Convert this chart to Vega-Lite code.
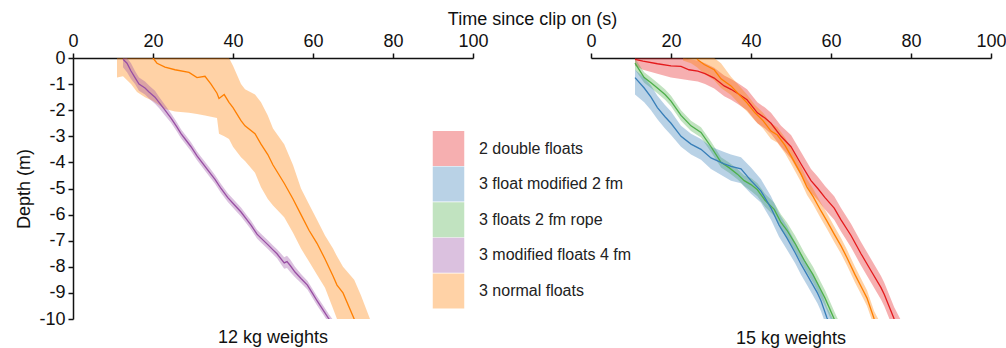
{
  "$schema": "https://vega.github.io/schema/vega-lite/v6.json",
  "padding": {"left": 15, "top": 10, "right": 5, "bottom": 0},
  "config": {
    "font": "Liberation Sans",
    "view": {"stroke": null},
    "axis": {"domainColor": "#111", "tickColor": "#111", "labelColor": "#111", "titleColor": "#111", "labelFontSize": 18, "titleFontSize": 18, "titleFontWeight": "normal", "domainWidth": 1.5, "tickWidth": 1.5, "tickSize": 5, "grid": false, "labelFlush": false},
    "title": {"fontWeight": "normal", "fontSize": 18, "color": "#111"},
    "legend": {"padding": 0}
  },
  "bounds": "flush",
  "spacing": 118,
  "resolve": {"scale": {"fill": "shared", "stroke": "shared"}},
  "data": {"values": [
    {"w":"12 kg","s":"3 normal floats","t":11,"m":null,"lo":-0.75,"hi":0},
    {"w":"12 kg","s":"3 normal floats","t":12.5,"m":null,"lo":-0.7,"hi":0},
    {"w":"12 kg","s":"3 normal floats","t":14.5,"m":null,"lo":-1.0,"hi":0},
    {"w":"12 kg","s":"3 normal floats","t":16,"m":null,"lo":-1.3,"hi":0},
    {"w":"12 kg","s":"3 normal floats","t":18,"m":null,"lo":-1.5,"hi":0},
    {"w":"12 kg","s":"3 normal floats","t":20,"m":0,"lo":-1.65,"hi":0},
    {"w":"12 kg","s":"3 normal floats","t":21,"m":-0.2,"lo":-1.75,"hi":0},
    {"w":"12 kg","s":"3 normal floats","t":23,"m":-0.35,"lo":-1.95,"hi":0},
    {"w":"12 kg","s":"3 normal floats","t":25.5,"m":-0.45,"lo":-2.05,"hi":0},
    {"w":"12 kg","s":"3 normal floats","t":29,"m":-0.55,"lo":-2.1,"hi":0},
    {"w":"12 kg","s":"3 normal floats","t":31,"m":-0.75,"lo":-2.15,"hi":0},
    {"w":"12 kg","s":"3 normal floats","t":33,"m":-0.7,"lo":-2.2,"hi":0},
    {"w":"12 kg","s":"3 normal floats","t":34.5,"m":-1.0,"lo":-2.25,"hi":0},
    {"w":"12 kg","s":"3 normal floats","t":36,"m":-1.35,"lo":-2.3,"hi":0},
    {"w":"12 kg","s":"3 normal floats","t":36.5,"m":-1.55,"lo":-2.9,"hi":0},
    {"w":"12 kg","s":"3 normal floats","t":37.8,"m":-1.4,"lo":-3.0,"hi":0},
    {"w":"12 kg","s":"3 normal floats","t":39,"m":-1.7,"lo":-3.1,"hi":0},
    {"w":"12 kg","s":"3 normal floats","t":40,"m":-1.9,"lo":-3.4,"hi":-0.3},
    {"w":"12 kg","s":"3 normal floats","t":42,"m":-2.4,"lo":-3.8,"hi":-1.0},
    {"w":"12 kg","s":"3 normal floats","t":43,"m":-2.6,"lo":-3.95,"hi":-1.2},
    {"w":"12 kg","s":"3 normal floats","t":45.5,"m":-2.9,"lo":-4.4,"hi":-1.4},
    {"w":"12 kg","s":"3 normal floats","t":47,"m":-3.3,"lo":-4.95,"hi":-1.7},
    {"w":"12 kg","s":"3 normal floats","t":48.7,"m":-3.7,"lo":-5.4,"hi":-2.2},
    {"w":"12 kg","s":"3 normal floats","t":50,"m":-4.1,"lo":-5.65,"hi":-2.7},
    {"w":"12 kg","s":"3 normal floats","t":52.8,"m":-4.8,"lo":-6.1,"hi":-3.3},
    {"w":"12 kg","s":"3 normal floats","t":55,"m":-5.4,"lo":-6.7,"hi":-4.1},
    {"w":"12 kg","s":"3 normal floats","t":57,"m":-6.0,"lo":-7.3,"hi":-5.0},
    {"w":"12 kg","s":"3 normal floats","t":59,"m":-6.6,"lo":-7.8,"hi":-5.6},
    {"w":"12 kg","s":"3 normal floats","t":61,"m":-7.1,"lo":-8.3,"hi":-6.2},
    {"w":"12 kg","s":"3 normal floats","t":63,"m":-7.7,"lo":-8.8,"hi":-6.8},
    {"w":"12 kg","s":"3 normal floats","t":65,"m":-8.35,"lo":-9.6,"hi":-7.3},
    {"w":"12 kg","s":"3 normal floats","t":66,"m":-8.7,"lo":-10.0,"hi":-7.6},
    {"w":"12 kg","s":"3 normal floats","t":67.5,"m":-9.0,"lo":-10.5,"hi":-8.0},
    {"w":"12 kg","s":"3 normal floats","t":70.3,"m":-10.0,"lo":-11.2,"hi":-8.5},
    {"w":"12 kg","s":"3 normal floats","t":72,"m":-10.6,"lo":-11.8,"hi":-9.1},
    {"w":"12 kg","s":"3 normal floats","t":74.5,"m":-11.4,"lo":-12.5,"hi":-10.1},

    {"w":"12 kg","s":"3 modified floats 4 fm","t":12.5,"m":-0.05,"lo":-0.35,"hi":0},
    {"w":"12 kg","s":"3 modified floats 4 fm","t":13.5,"m":-0.2,"lo":-0.55,"hi":0},
    {"w":"12 kg","s":"3 modified floats 4 fm","t":14.5,"m":-0.5,"lo":-0.8,"hi":-0.2},
    {"w":"12 kg","s":"3 modified floats 4 fm","t":15.5,"m":-0.75,"lo":-1.0,"hi":-0.5},
    {"w":"12 kg","s":"3 modified floats 4 fm","t":16.5,"m":-1.0,"lo":-1.25,"hi":-0.75},
    {"w":"12 kg","s":"3 modified floats 4 fm","t":18,"m":-1.15,"lo":-1.4,"hi":-0.9},
    {"w":"12 kg","s":"3 modified floats 4 fm","t":19,"m":-1.3,"lo":-1.55,"hi":-1.05},
    {"w":"12 kg","s":"3 modified floats 4 fm","t":20.5,"m":-1.5,"lo":-1.75,"hi":-1.25},
    {"w":"12 kg","s":"3 modified floats 4 fm","t":21.5,"m":-1.7,"lo":-1.92,"hi":-1.48},
    {"w":"12 kg","s":"3 modified floats 4 fm","t":23,"m":-2.0,"lo":-2.2,"hi":-1.8},
    {"w":"12 kg","s":"3 modified floats 4 fm","t":24.5,"m":-2.3,"lo":-2.48,"hi":-2.12},
    {"w":"12 kg","s":"3 modified floats 4 fm","t":26,"m":-2.65,"lo":-2.83,"hi":-2.47},
    {"w":"12 kg","s":"3 modified floats 4 fm","t":27,"m":-2.9,"lo":-3.07,"hi":-2.73},
    {"w":"12 kg","s":"3 modified floats 4 fm","t":28.5,"m":-3.2,"lo":-3.37,"hi":-3.03},
    {"w":"12 kg","s":"3 modified floats 4 fm","t":29.5,"m":-3.4,"lo":-3.57,"hi":-3.23},
    {"w":"12 kg","s":"3 modified floats 4 fm","t":31,"m":-3.75,"lo":-3.92,"hi":-3.58},
    {"w":"12 kg","s":"3 modified floats 4 fm","t":32,"m":-3.95,"lo":-4.12,"hi":-3.78},
    {"w":"12 kg","s":"3 modified floats 4 fm","t":34,"m":-4.35,"lo":-4.52,"hi":-4.18},
    {"w":"12 kg","s":"3 modified floats 4 fm","t":35.5,"m":-4.65,"lo":-4.82,"hi":-4.48},
    {"w":"12 kg","s":"3 modified floats 4 fm","t":37,"m":-5.0,"lo":-5.17,"hi":-4.83},
    {"w":"12 kg","s":"3 modified floats 4 fm","t":38.7,"m":-5.35,"lo":-5.52,"hi":-5.18},
    {"w":"12 kg","s":"3 modified floats 4 fm","t":40.5,"m":-5.65,"lo":-5.82,"hi":-5.48},
    {"w":"12 kg","s":"3 modified floats 4 fm","t":42,"m":-5.9,"lo":-6.07,"hi":-5.73},
    {"w":"12 kg","s":"3 modified floats 4 fm","t":43.5,"m":-6.2,"lo":-6.37,"hi":-6.03},
    {"w":"12 kg","s":"3 modified floats 4 fm","t":44.5,"m":-6.4,"lo":-6.57,"hi":-6.23},
    {"w":"12 kg","s":"3 modified floats 4 fm","t":46,"m":-6.75,"lo":-6.92,"hi":-6.58},
    {"w":"12 kg","s":"3 modified floats 4 fm","t":47,"m":-6.9,"lo":-7.07,"hi":-6.73},
    {"w":"12 kg","s":"3 modified floats 4 fm","t":48.7,"m":-7.15,"lo":-7.32,"hi":-6.98},
    {"w":"12 kg","s":"3 modified floats 4 fm","t":50,"m":-7.35,"lo":-7.52,"hi":-7.18},
    {"w":"12 kg","s":"3 modified floats 4 fm","t":51,"m":-7.5,"lo":-7.67,"hi":-7.33},
    {"w":"12 kg","s":"3 modified floats 4 fm","t":52.8,"m":-7.85,"lo":-8.07,"hi":-7.63},
    {"w":"12 kg","s":"3 modified floats 4 fm","t":53.5,"m":-7.8,"lo":-8.05,"hi":-7.58},
    {"w":"12 kg","s":"3 modified floats 4 fm","t":54.3,"m":-7.95,"lo":-8.2,"hi":-7.72},
    {"w":"12 kg","s":"3 modified floats 4 fm","t":55.5,"m":-8.2,"lo":-8.4,"hi":-8.0},
    {"w":"12 kg","s":"3 modified floats 4 fm","t":57,"m":-8.45,"lo":-8.62,"hi":-8.28},
    {"w":"12 kg","s":"3 modified floats 4 fm","t":58.6,"m":-8.7,"lo":-8.87,"hi":-8.53},
    {"w":"12 kg","s":"3 modified floats 4 fm","t":60,"m":-9.05,"lo":-9.22,"hi":-8.88},
    {"w":"12 kg","s":"3 modified floats 4 fm","t":61,"m":-9.3,"lo":-9.47,"hi":-9.13},
    {"w":"12 kg","s":"3 modified floats 4 fm","t":62.3,"m":-9.6,"lo":-9.77,"hi":-9.43},
    {"w":"12 kg","s":"3 modified floats 4 fm","t":64,"m":-10.0,"lo":-10.17,"hi":-9.83},
    {"w":"12 kg","s":"3 modified floats 4 fm","t":65,"m":-10.2,"lo":-10.37,"hi":-10.03},

    {"w":"15 kg","s":"2 double floats","t":11,"m":-0.05,"lo":-0.3,"hi":0},
    {"w":"15 kg","s":"2 double floats","t":13,"m":-0.12,"lo":-0.45,"hi":0},
    {"w":"15 kg","s":"2 double floats","t":16.6,"m":-0.22,"lo":-0.6,"hi":0},
    {"w":"15 kg","s":"2 double floats","t":20,"m":-0.3,"lo":-0.75,"hi":0},
    {"w":"15 kg","s":"2 double floats","t":22.5,"m":-0.32,"lo":-0.8,"hi":0},
    {"w":"15 kg","s":"2 double floats","t":24.5,"m":-0.45,"lo":-0.85,"hi":-0.05},
    {"w":"15 kg","s":"2 double floats","t":26.7,"m":-0.5,"lo":-0.9,"hi":-0.1},
    {"w":"15 kg","s":"2 double floats","t":28.5,"m":-0.6,"lo":-1.0,"hi":-0.2},
    {"w":"15 kg","s":"2 double floats","t":30.8,"m":-0.77,"lo":-1.17,"hi":-0.37},
    {"w":"15 kg","s":"2 double floats","t":33.3,"m":-1.07,"lo":-1.47,"hi":-0.67},
    {"w":"15 kg","s":"2 double floats","t":35,"m":-1.2,"lo":-1.6,"hi":-0.8},
    {"w":"15 kg","s":"2 double floats","t":36.6,"m":-1.35,"lo":-1.75,"hi":-0.95},
    {"w":"15 kg","s":"2 double floats","t":39,"m":-1.6,"lo":-2.0,"hi":-1.2},
    {"w":"15 kg","s":"2 double floats","t":41.6,"m":-2.1,"lo":-2.5,"hi":-1.7},
    {"w":"15 kg","s":"2 double floats","t":43.5,"m":-2.3,"lo":-2.7,"hi":-1.9},
    {"w":"15 kg","s":"2 double floats","t":45,"m":-2.5,"lo":-2.9,"hi":-2.1},
    {"w":"15 kg","s":"2 double floats","t":47.5,"m":-3.0,"lo":-3.4,"hi":-2.6},
    {"w":"15 kg","s":"2 double floats","t":50,"m":-3.4,"lo":-3.85,"hi":-2.95},
    {"w":"15 kg","s":"2 double floats","t":52.5,"m":-4.06,"lo":-4.5,"hi":-3.6},
    {"w":"15 kg","s":"2 double floats","t":55,"m":-4.7,"lo":-5.15,"hi":-4.25},
    {"w":"15 kg","s":"2 double floats","t":56.7,"m":-5.0,"lo":-5.45,"hi":-4.55},
    {"w":"15 kg","s":"2 double floats","t":58.5,"m":-5.35,"lo":-5.8,"hi":-4.9},
    {"w":"15 kg","s":"2 double floats","t":60.8,"m":-5.75,"lo":-6.2,"hi":-5.3},
    {"w":"15 kg","s":"2 double floats","t":62.5,"m":-6.2,"lo":-6.65,"hi":-5.75},
    {"w":"15 kg","s":"2 double floats","t":65,"m":-6.8,"lo":-7.25,"hi":-6.35},
    {"w":"15 kg","s":"2 double floats","t":67.5,"m":-7.5,"lo":-7.95,"hi":-7.05},
    {"w":"15 kg","s":"2 double floats","t":70,"m":-8.15,"lo":-8.6,"hi":-7.7},
    {"w":"15 kg","s":"2 double floats","t":72.5,"m":-8.8,"lo":-9.25,"hi":-8.35},
    {"w":"15 kg","s":"2 double floats","t":73.3,"m":-9.05,"lo":-9.5,"hi":-8.6},
    {"w":"15 kg","s":"2 double floats","t":75.8,"m":-10.0,"lo":-10.45,"hi":-9.55},
    {"w":"15 kg","s":"2 double floats","t":77.5,"m":-10.5,"lo":-10.95,"hi":-10.05},

    {"w":"15 kg","s":"3 normal floats","t":23,"m":null,"lo":-0.1,"hi":0},
    {"w":"15 kg","s":"3 normal floats","t":25,"m":null,"lo":-0.2,"hi":0},
    {"w":"15 kg","s":"3 normal floats","t":26.5,"m":-0.05,"lo":-0.35,"hi":0},
    {"w":"15 kg","s":"3 normal floats","t":28.3,"m":-0.25,"lo":-0.6,"hi":0},
    {"w":"15 kg","s":"3 normal floats","t":30.8,"m":-0.45,"lo":-0.85,"hi":0},
    {"w":"15 kg","s":"3 normal floats","t":32.5,"m":-0.8,"lo":-1.15,"hi":-0.2},
    {"w":"15 kg","s":"3 normal floats","t":35,"m":-1.07,"lo":-1.42,"hi":-0.72},
    {"w":"15 kg","s":"3 normal floats","t":37,"m":-1.4,"lo":-1.75,"hi":-1.05},
    {"w":"15 kg","s":"3 normal floats","t":39,"m":-1.72,"lo":-2.05,"hi":-1.4},
    {"w":"15 kg","s":"3 normal floats","t":41,"m":-2.1,"lo":-2.4,"hi":-1.8},
    {"w":"15 kg","s":"3 normal floats","t":43,"m":-2.4,"lo":-2.7,"hi":-2.1},
    {"w":"15 kg","s":"3 normal floats","t":45,"m":-2.8,"lo":-3.1,"hi":-2.5},
    {"w":"15 kg","s":"3 normal floats","t":46.6,"m":-2.95,"lo":-3.25,"hi":-2.65},
    {"w":"15 kg","s":"3 normal floats","t":48.5,"m":-3.35,"lo":-3.65,"hi":-3.05},
    {"w":"15 kg","s":"3 normal floats","t":50,"m":-3.75,"lo":-4.05,"hi":-3.45},
    {"w":"15 kg","s":"3 normal floats","t":52.5,"m":-4.45,"lo":-4.75,"hi":-4.15},
    {"w":"15 kg","s":"3 normal floats","t":54,"m":-4.95,"lo":-5.25,"hi":-4.65},
    {"w":"15 kg","s":"3 normal floats","t":55.5,"m":-5.3,"lo":-5.6,"hi":-5.0},
    {"w":"15 kg","s":"3 normal floats","t":57.5,"m":-5.86,"lo":-6.16,"hi":-5.56},
    {"w":"15 kg","s":"3 normal floats","t":59,"m":-6.25,"lo":-6.55,"hi":-5.95},
    {"w":"15 kg","s":"3 normal floats","t":60.8,"m":-6.75,"lo":-7.05,"hi":-6.45},
    {"w":"15 kg","s":"3 normal floats","t":62.5,"m":-7.2,"lo":-7.5,"hi":-6.9},
    {"w":"15 kg","s":"3 normal floats","t":64,"m":-7.65,"lo":-7.95,"hi":-7.35},
    {"w":"15 kg","s":"3 normal floats","t":66,"m":-8.3,"lo":-8.6,"hi":-8.0},
    {"w":"15 kg","s":"3 normal floats","t":68,"m":-8.9,"lo":-9.2,"hi":-8.6},
    {"w":"15 kg","s":"3 normal floats","t":69,"m":-9.2,"lo":-9.5,"hi":-8.9},
    {"w":"15 kg","s":"3 normal floats","t":70.8,"m":-10.0,"lo":-10.3,"hi":-9.7},
    {"w":"15 kg","s":"3 normal floats","t":72.5,"m":-10.5,"lo":-10.8,"hi":-10.2},

    {"w":"15 kg","s":"3 floats 2 fm rope","t":11,"m":-0.2,"lo":-0.45,"hi":-0.02},
    {"w":"15 kg","s":"3 floats 2 fm rope","t":13.3,"m":-0.75,"lo":-0.95,"hi":-0.55},
    {"w":"15 kg","s":"3 floats 2 fm rope","t":15,"m":-0.95,"lo":-1.15,"hi":-0.75},
    {"w":"15 kg","s":"3 floats 2 fm rope","t":16.6,"m":-1.15,"lo":-1.35,"hi":-0.95},
    {"w":"15 kg","s":"3 floats 2 fm rope","t":18.5,"m":-1.4,"lo":-1.6,"hi":-1.2},
    {"w":"15 kg","s":"3 floats 2 fm rope","t":20,"m":-1.65,"lo":-1.85,"hi":-1.45},
    {"w":"15 kg","s":"3 floats 2 fm rope","t":22.5,"m":-2.2,"lo":-2.4,"hi":-2.0},
    {"w":"15 kg","s":"3 floats 2 fm rope","t":25,"m":-2.6,"lo":-2.8,"hi":-2.4},
    {"w":"15 kg","s":"3 floats 2 fm rope","t":27.5,"m":-2.85,"lo":-3.05,"hi":-2.65},
    {"w":"15 kg","s":"3 floats 2 fm rope","t":30,"m":-3.4,"lo":-3.6,"hi":-3.2},
    {"w":"15 kg","s":"3 floats 2 fm rope","t":32.5,"m":-4.0,"lo":-4.2,"hi":-3.8},
    {"w":"15 kg","s":"3 floats 2 fm rope","t":34.5,"m":-4.2,"lo":-4.4,"hi":-4.0},
    {"w":"15 kg","s":"3 floats 2 fm rope","t":36.6,"m":-4.45,"lo":-4.65,"hi":-4.25},
    {"w":"15 kg","s":"3 floats 2 fm rope","t":38.3,"m":-4.7,"lo":-4.9,"hi":-4.5},
    {"w":"15 kg","s":"3 floats 2 fm rope","t":40,"m":-4.85,"lo":-5.1,"hi":-4.6},
    {"w":"15 kg","s":"3 floats 2 fm rope","t":41.6,"m":-5.05,"lo":-5.3,"hi":-4.8},
    {"w":"15 kg","s":"3 floats 2 fm rope","t":43.5,"m":-5.45,"lo":-5.7,"hi":-5.2},
    {"w":"15 kg","s":"3 floats 2 fm rope","t":45.8,"m":-5.8,"lo":-6.05,"hi":-5.55},
    {"w":"15 kg","s":"3 floats 2 fm rope","t":47.5,"m":-6.3,"lo":-6.6,"hi":-6.0},
    {"w":"15 kg","s":"3 floats 2 fm rope","t":49,"m":-6.6,"lo":-6.9,"hi":-6.3},
    {"w":"15 kg","s":"3 floats 2 fm rope","t":51,"m":-7.1,"lo":-7.4,"hi":-6.8},
    {"w":"15 kg","s":"3 floats 2 fm rope","t":53.3,"m":-7.75,"lo":-8.05,"hi":-7.45},
    {"w":"15 kg","s":"3 floats 2 fm rope","t":55.5,"m":-8.3,"lo":-8.6,"hi":-8.0},
    {"w":"15 kg","s":"3 floats 2 fm rope","t":57.5,"m":-8.9,"lo":-9.2,"hi":-8.6},
    {"w":"15 kg","s":"3 floats 2 fm rope","t":58.5,"m":-9.2,"lo":-9.5,"hi":-8.9},
    {"w":"15 kg","s":"3 floats 2 fm rope","t":60.8,"m":-10.0,"lo":-10.3,"hi":-9.7},
    {"w":"15 kg","s":"3 floats 2 fm rope","t":62,"m":-10.4,"lo":-10.7,"hi":-10.1},

    {"w":"15 kg","s":"3 float modified 2 fm","t":11,"m":-0.75,"lo":-1.4,"hi":-0.45},
    {"w":"15 kg","s":"3 float modified 2 fm","t":13.3,"m":-1.15,"lo":-1.7,"hi":-0.75},
    {"w":"15 kg","s":"3 float modified 2 fm","t":15,"m":-1.5,"lo":-2.0,"hi":-1.05},
    {"w":"15 kg","s":"3 float modified 2 fm","t":16.6,"m":-1.9,"lo":-2.35,"hi":-1.45},
    {"w":"15 kg","s":"3 float modified 2 fm","t":18.5,"m":-2.25,"lo":-2.7,"hi":-1.8},
    {"w":"15 kg","s":"3 float modified 2 fm","t":20,"m":-2.5,"lo":-2.95,"hi":-2.05},
    {"w":"15 kg","s":"3 float modified 2 fm","t":22.5,"m":-3.0,"lo":-3.4,"hi":-2.6},
    {"w":"15 kg","s":"3 float modified 2 fm","t":25,"m":-3.3,"lo":-3.7,"hi":-2.9},
    {"w":"15 kg","s":"3 float modified 2 fm","t":27.5,"m":-3.5,"lo":-3.9,"hi":-3.1},
    {"w":"15 kg","s":"3 float modified 2 fm","t":30,"m":-3.83,"lo":-4.25,"hi":-3.4},
    {"w":"15 kg","s":"3 float modified 2 fm","t":33.3,"m":-4.06,"lo":-4.55,"hi":-3.6},
    {"w":"15 kg","s":"3 float modified 2 fm","t":35,"m":-4.15,"lo":-4.7,"hi":-3.7},
    {"w":"15 kg","s":"3 float modified 2 fm","t":37.5,"m":-4.25,"lo":-4.8,"hi":-3.8},
    {"w":"15 kg","s":"3 float modified 2 fm","t":40,"m":-4.7,"lo":-5.2,"hi":-4.2},
    {"w":"15 kg","s":"3 float modified 2 fm","t":42.5,"m":-5.1,"lo":-5.55,"hi":-4.65},
    {"w":"15 kg","s":"3 float modified 2 fm","t":45,"m":-5.75,"lo":-6.2,"hi":-5.3},
    {"w":"15 kg","s":"3 float modified 2 fm","t":47,"m":-6.4,"lo":-6.85,"hi":-5.95},
    {"w":"15 kg","s":"3 float modified 2 fm","t":49,"m":-6.9,"lo":-7.35,"hi":-6.45},
    {"w":"15 kg","s":"3 float modified 2 fm","t":51,"m":-7.45,"lo":-7.85,"hi":-7.05},
    {"w":"15 kg","s":"3 float modified 2 fm","t":52.5,"m":-7.9,"lo":-8.3,"hi":-7.5},
    {"w":"15 kg","s":"3 float modified 2 fm","t":54,"m":-8.3,"lo":-8.7,"hi":-7.9},
    {"w":"15 kg","s":"3 float modified 2 fm","t":56.6,"m":-9.0,"lo":-9.4,"hi":-8.6},
    {"w":"15 kg","s":"3 float modified 2 fm","t":57.5,"m":-9.3,"lo":-9.7,"hi":-8.9},
    {"w":"15 kg","s":"3 float modified 2 fm","t":59,"m":-9.96,"lo":-10.35,"hi":-9.55},
    {"w":"15 kg","s":"3 float modified 2 fm","t":60.5,"m":-10.4,"lo":-10.8,"hi":-10.0}
  ]},
  "hconcat": [
    {
      "width": 400, "height": 261,
      "title": {"text": "12 kg weights", "orient": "bottom", "offset": 1},
      "transform": [{"filter": "datum.w === '12 kg'"}],
      "encoding": {
        "x": {"field": "t", "type": "quantitative", "scale": {"domain": [0, 100], "nice": false, "zero": false},
              "axis": {"orient": "top", "values": [0, 20, 40, 60, 80, 100], "title": "Time since clip on (s)", "titleX": 459, "titleAlign": "center", "titleAnchor": "middle", "titlePadding": 4, "labelPadding": 3}}
      },
      "layer": [
        {
          "mark": {"type": "area", "opacity": 0.35, "clip": true},
          "encoding": {
            "y": {"field": "lo", "type": "quantitative", "scale": {"domain": [-10, 0], "nice": false, "zero": false},
                  "axis": {"title": "Depth (m)", "values": [-10, -9, -8, -7, -6, -5, -4, -3, -2, -1, 0], "labelExpr": "datum.value < 0 ? '-' + abs(datum.value) : '' + datum.value", "labelPadding": 3, "titlePadding": 5}},
            "y2": {"field": "hi"},
            "fill": {"field": "s", "type": "nominal",
                     "scale": {"domain": ["2 double floats", "3 float modified 2 fm", "3 floats 2 fm rope", "3 modified floats 4 fm", "3 normal floats"],
                               "range": ["#e41a1c", "#377eb8", "#4daf4a", "#984ea3", "#ff7f00"]},
                     "legend": {"title": null, "orient": "none", "legendX": 358, "legendY": 73, "symbolType": "M-0.9,-1H0.9V1H-0.9Z", "symbolSize": 1225, "symbolStrokeWidth": 0, "symbolOpacity": 0.35, "rowPadding": 0.6, "labelFontSize": 16, "labelColor": "#222", "labelOffset": 13, "labelLimit": 300}}
          }
        },
        {
          "mark": {"type": "line", "strokeWidth": 1.3, "clip": true},
          "encoding": {
            "y": {"field": "m", "type": "quantitative", "scale": {"domain": [-10, 0], "nice": false, "zero": false},
                  "axis": {"title": "Depth (m)", "values": [-10, -9, -8, -7, -6, -5, -4, -3, -2, -1, 0], "labelExpr": "datum.value < 0 ? '-' + abs(datum.value) : '' + datum.value", "labelPadding": 3, "titlePadding": 5}},
            "stroke": {"field": "s", "type": "nominal",
                       "scale": {"domain": ["2 double floats", "3 float modified 2 fm", "3 floats 2 fm rope", "3 modified floats 4 fm", "3 normal floats"],
                                 "range": ["#e41a1c", "#377eb8", "#4daf4a", "#984ea3", "#ff7f00"]},
                       "legend": {"title": null, "orient": "none", "legendX": 358, "legendY": 73, "symbolType": "M-0.72,0H0.72", "symbolSize": 1225, "symbolStrokeWidth": 1.5, "symbolOpacity": 1, "rowPadding": 0.6, "labelFontSize": 16, "labelColor": "rgba(0,0,0,0)", "labelOffset": 13, "labelLimit": 300}}
          }
        }
      ]
    },
    {
      "width": 400, "height": 261,
      "title": {"text": "15 kg weights", "orient": "bottom", "offset": 11},
      "transform": [{"filter": "datum.w === '15 kg'"}],
      "encoding": {
        "x": {"field": "t", "type": "quantitative", "scale": {"domain": [0, 100], "nice": false, "zero": false},
              "axis": {"orient": "top", "values": [0, 20, 40, 60, 80, 100], "title": null, "labelPadding": 3}}
      },
      "layer": [
        {
          "mark": {"type": "area", "opacity": 0.35, "clip": true},
          "encoding": {
            "y": {"field": "lo", "type": "quantitative", "scale": {"domain": [-10, 0], "nice": false, "zero": false}, "axis": null},
            "y2": {"field": "hi"},
            "fill": {"field": "s", "type": "nominal",
                     "scale": {"domain": ["2 double floats", "3 float modified 2 fm", "3 floats 2 fm rope", "3 modified floats 4 fm", "3 normal floats"],
                               "range": ["#e41a1c", "#377eb8", "#4daf4a", "#984ea3", "#ff7f00"]},
                     "legend": {"title": null, "orient": "none", "legendX": 358, "legendY": 73, "symbolType": "M-0.9,-1H0.9V1H-0.9Z", "symbolSize": 1225, "symbolStrokeWidth": 0, "symbolOpacity": 0.35, "rowPadding": 0.6, "labelFontSize": 16, "labelColor": "#222", "labelOffset": 13, "labelLimit": 300}}
          }
        },
        {
          "mark": {"type": "line", "strokeWidth": 1.3, "clip": true},
          "encoding": {
            "y": {"field": "m", "type": "quantitative", "scale": {"domain": [-10, 0], "nice": false, "zero": false}, "axis": null},
            "stroke": {"field": "s", "type": "nominal",
                       "scale": {"domain": ["2 double floats", "3 float modified 2 fm", "3 floats 2 fm rope", "3 modified floats 4 fm", "3 normal floats"],
                                 "range": ["#e41a1c", "#377eb8", "#4daf4a", "#984ea3", "#ff7f00"]},
                       "legend": {"title": null, "orient": "none", "legendX": 358, "legendY": 73, "symbolType": "M-0.72,0H0.72", "symbolSize": 1225, "symbolStrokeWidth": 1.5, "symbolOpacity": 1, "rowPadding": 0.6, "labelFontSize": 16, "labelColor": "rgba(0,0,0,0)", "labelOffset": 13, "labelLimit": 300}}
          }
        }
      ]
    }
  ]
}
